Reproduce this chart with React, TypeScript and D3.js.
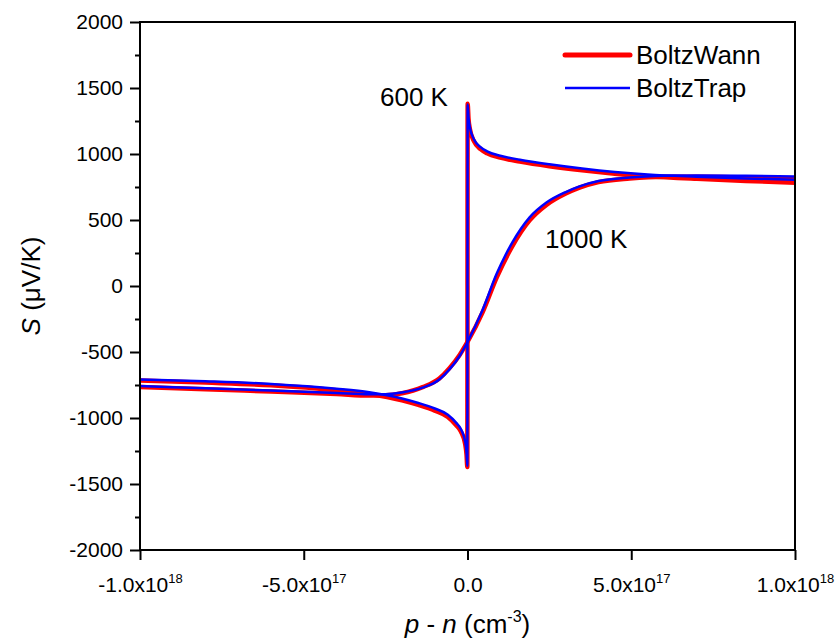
import React, { useEffect, useRef } from "react";
import * as d3 from "d3";

const width = 839;
const height = 639;
const margin = { top: 22, right: 44, bottom: 89, left: 140 };

// x values in units of 1e17 cm^-3
const X_UNIT = 1e17;

const pn600 = [-10, -8, -6, -4, -3, -2, -1.5, -1, -0.6, -0.35, -0.2, -0.07, -0.03, -0.005, 0.005, 0.03, 0.07, 0.2, 0.4, 0.6, 1, 1.6, 2.5, 3.5, 4.5, 5.5, 7, 8.5, 10];
const wann600 = [-716, -732, -752, -790, -818, -866, -901, -944, -992, -1053, -1103, -1198, -1275, -1372, 1380, 1270, 1192, 1095, 1037, 1005, 972, 942, 907, 876, 851, 832, 812, 796, 782];
const trap600 = [-708, -722, -742, -778, -805, -852, -886, -928, -975, -1035, -1085, -1180, -1260, -1362, 1375, 1280, 1205, 1110, 1052, 1020, 987, 957, 922, 890, 864, 845, 828, 815, 805];

const pn1000 = [-10, -8, -6, -4, -3, -2.5, -2, -1.37, -0.86, -0.55, -0.24, 0, 0.46, 0.89, 1.37, 1.89, 2.41, 3, 3.42, 4, 4.95, 6, 7, 8.5, 10];
const wann1000 = [-765, -782, -800, -818, -830, -828, -812, -766, -700, -622, -522, -424, -200, 64, 302, 495, 614, 700, 745, 787, 815, 828, 828, 822, 815];
const trap1000 = [-758, -775, -792, -810, -820, -820, -806, -770, -708, -632, -530, -424, -182, 92, 330, 518, 632, 712, 755, 795, 822, 835, 838, 835, 830];

const yTicks = [-2000, -1500, -1000, -500, 0, 500, 1000, 1500, 2000];
const yMinor = [-1750, -1250, -750, -250, 250, 750, 1250, 1750];
const xTicks = [-1e18, -5e17, 0, 5e17, 1e18];
const xTickMantissa = ["-1.0", "-5.0", "0.0", "5.0", "1.0"];
const xTickExp = ["18", "17", "", "17", "18"];

const font = "'Liberation Sans', Arial, sans-serif";

const x = d3.scaleLinear().domain([-1e18, 1e18]).range([margin.left, width - margin.right]);
const y = d3.scaleLinear().domain([-2000, 2000]).range([height - margin.bottom, margin.top]);

const line = d3
  .line<[number, number]>()
  .x(d => x(d[0] * X_UNIT))
  .y(d => y(d[1]))
  .curve(d3.curveMonotoneX);

const zip = (xs: number[], ys: number[]) => xs.map((v, i) => [v, ys[i]] as [number, number]);

export default function App() {
  const xAxisRef = useRef<SVGGElement>(null);
  const yAxisRef = useRef<SVGGElement>(null);
  const yMinorRef = useRef<SVGGElement>(null);

  useEffect(() => {
    const yAxis = d3.axisLeft(y).tickValues(yTicks).tickSize(10).tickPadding(7).tickFormat(d => `${d}`);
    const ya = d3.select(yAxisRef.current!).call(yAxis);
    ya.select(".domain").remove();
    ya.selectAll("line").attr("stroke", "#000").attr("stroke-width", 2);
    ya.selectAll("text").attr("font-family", font).attr("font-size", 21).attr("fill", "#000");

    const minor = d3.axisLeft(y).tickValues(yMinor).tickSize(5).tickFormat(() => "");
    const ym = d3.select(yMinorRef.current!).call(minor);
    ym.select(".domain").remove();
    ym.selectAll("line").attr("stroke", "#000").attr("stroke-width", 2);

    const xAxis = d3.axisBottom(x).tickValues(xTicks).tickSize(10).tickPadding(10).tickFormat(() => "");
    const xa = d3.select(xAxisRef.current!).call(xAxis);
    xa.select(".domain").remove();
    xa.selectAll("line").attr("stroke", "#000").attr("stroke-width", 2);
    xa.selectAll<SVGTextElement, number>("text").each(function (_d, i) {
      const t = d3.select(this).attr("font-family", font).attr("font-size", 21).attr("fill", "#000").attr("dy", "1.05em");
      t.text(null);
      t.append("tspan").text(xTickExp[i] ? `${xTickMantissa[i]}x10` : xTickMantissa[i]);
      if (xTickExp[i]) t.append("tspan").attr("dy", -9).attr("font-size", 13).text(xTickExp[i]);
    });
  }, []);

  const x0 = margin.left;
  const x1 = width - margin.right;
  const y0 = margin.top;
  const y1 = height - margin.bottom;

  return (
    <svg width={width} height={height} style={{ position: "absolute", left: 0, top: 0, background: "#fff" }}>
      <defs>
        <clipPath id="plot">
          <rect x={x0} y={y0} width={x1 - x0} height={y1 - y0} />
        </clipPath>
      </defs>
      <g clipPath="url(#plot)" fill="none" strokeLinecap="round" strokeLinejoin="round">
        <path d={line(zip(pn600, wann600)) || ""} stroke="#ff0000" strokeWidth={4.5} />
        <path d={line(zip(pn1000, wann1000)) || ""} stroke="#ff0000" strokeWidth={4.5} />
        <path d={line(zip(pn600, trap600)) || ""} stroke="#0000ff" strokeWidth={2.5} />
        <path d={line(zip(pn1000, trap1000)) || ""} stroke="#0000ff" strokeWidth={2.5} />
      </g>
      <rect x={x0} y={y0} width={x1 - x0} height={y1 - y0} fill="none" stroke="#000" strokeWidth={2} />
      <g ref={yAxisRef} transform={`translate(${x0},0)`} />
      <g ref={yMinorRef} transform={`translate(${x0},0)`} />
      <g ref={xAxisRef} transform={`translate(0,${y1})`} />

      <g fontFamily={font} fill="#000">
        <text x={380} y={106} fontSize={26}>600 K</text>
        <text x={545} y={248} fontSize={26}>1000 K</text>

        <line x1={565} x2={630} y1={55} y2={55} stroke="#ff0000" strokeWidth={5} strokeLinecap="round" />
        <text x={636} y={64} fontSize={26}>BoltzWann</text>
        <line x1={565} x2={630} y1={88} y2={88} stroke="#0000ff" strokeWidth={2.5} />
        <text x={636} y={97} fontSize={26}>BoltzTrap</text>

        <text x={(x0 + x1) / 2} y={633} fontSize={26} textAnchor="middle">
          <tspan fontStyle="italic">p</tspan>
          <tspan> - </tspan>
          <tspan fontStyle="italic">n</tspan>
          <tspan> (cm</tspan>
          <tspan dy={-11} fontSize={16}>-3</tspan>
          <tspan dy={11}>)</tspan>
        </text>
        <text transform={`translate(40,${(y0 + y1) / 2}) rotate(-90)`} fontSize={26} textAnchor="middle">
          <tspan fontStyle="italic">S</tspan>
          <tspan> (μV/K)</tspan>
        </text>
      </g>
    </svg>
  );
}
